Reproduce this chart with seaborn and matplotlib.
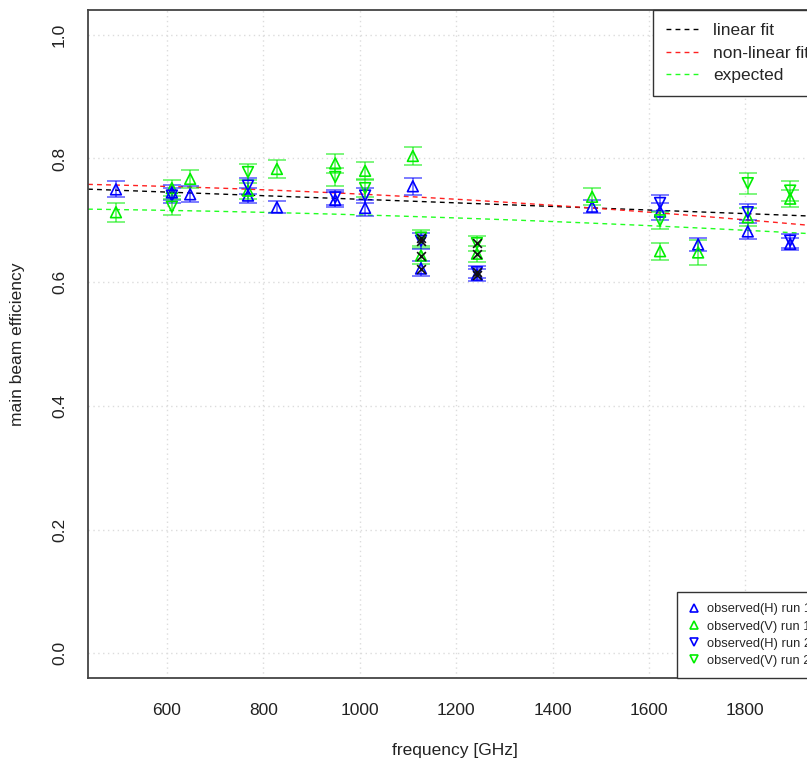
import numpy as np
import pandas as pd
import matplotlib
matplotlib.use("Agg")
import matplotlib.pyplot as plt
from matplotlib.lines import Line2D
import seaborn as sns

# ---- observed main beam efficiencies -------------------------------------
h1_freq = [494, 610, 648, 768, 828, 949, 1011, 1110, 1127, 1243, 1482, 1623, 1702, 1805, 1893]
h1_eff  = [0.750, 0.745, 0.742, 0.740, 0.721, 0.733, 0.720, 0.755, 0.622, 0.612, 0.722, 0.714, 0.661, 0.682, 0.662]
h1_err  = [0.013, 0.012, 0.013, 0.012, 0.010, 0.012, 0.013, 0.014, 0.012, 0.010, 0.011, 0.014, 0.010, 0.013, 0.010]

v1_freq = [494, 610, 648, 768, 828, 949, 1011, 1110, 1127, 1243, 1482, 1623, 1702, 1805, 1893]
v1_eff  = [0.713, 0.752, 0.767, 0.748, 0.783, 0.792, 0.780, 0.804, 0.643, 0.646, 0.738, 0.650, 0.648, 0.705, 0.735]
v1_err  = [0.015, 0.013, 0.014, 0.013, 0.014, 0.015, 0.015, 0.015, 0.013, 0.013, 0.014, 0.014, 0.020, 0.015, 0.014]

h2_freq = [610, 768, 949, 1011, 1127, 1243, 1623, 1805, 1893]
h2_eff  = [0.740, 0.756, 0.737, 0.740, 0.667, 0.616, 0.728, 0.713, 0.667]
h2_err  = [0.012, 0.013, 0.012, 0.012, 0.013, 0.010, 0.013, 0.013, 0.011]

v2_freq = [610, 768, 949, 1011, 1127, 1243, 1623, 1805, 1893]
v2_eff  = [0.722, 0.778, 0.770, 0.752, 0.672, 0.663, 0.700, 0.760, 0.748]
v2_err  = [0.013, 0.013, 0.015, 0.014, 0.013, 0.012, 0.014, 0.017, 0.016]

# frequencies whose measurements are flagged (drawn with a black cross)
flagged_freq = [1127, 1243]

# ---- fitted / expected efficiency models ---------------------------------
lin_intercept, lin_slope = 0.763, -2.9e-5          # eta = a + b*f
nonlin_amp, nonlin_coef = 0.7618, 2.577e-8         # eta = a*exp(-c*f^2)
exp_amp, exp_coef = 0.7202, 1.597e-8               # eta = a*exp(-c*f^2)

x_ticks = [600, 800, 1000, 1200, 1400, 1600, 1800]
y_ticks = [0.0, 0.2, 0.4, 0.6, 0.8, 1.0]
y_tick_labels = ["0.0", "0.2", "0.4", "0.6", "0.8", "1.0"]

BLUE = "#0000FF"
GREEN = "#00EE00"

series = [
    ("observed(H) run 1", h1_freq, h1_eff, h1_err, BLUE, "^"),
    ("observed(V) run 1", v1_freq, v1_eff, v1_err, GREEN, "^"),
    ("observed(H) run 2", h2_freq, h2_eff, h2_err, BLUE, "v"),
    ("observed(V) run 2", v2_freq, v2_eff, v2_err, GREEN, "v"),
]

sns.set_style("white")
plt.rcParams["font.family"] = ["Liberation Sans", "DejaVu Sans"]

W, H = 807, 764
fig = plt.figure(figsize=(W / 100, H / 100), dpi=100)
# plot region: left 88px, top 10px, bottom 678px, right 822px (beyond the canvas)
ax = fig.add_axes([88 / W, (H - 678) / H, 734 / W, 668 / H])

xlim = (436, 1959)
ylim = (-0.04, 1.04)
ax.set_xlim(*xlim)
ax.set_ylim(*ylim)

ax.set_xticks(x_ticks)
ax.set_yticks(y_ticks)
ax.set_yticklabels(y_tick_labels, rotation=90, va="center")
ax.tick_params(axis="both", direction="out", length=7.2, width=1.0,
               color="#444444", labelsize=12.5, labelcolor="#222222")
ax.tick_params(axis="x", pad=11)
ax.tick_params(axis="y", pad=8)
ax.grid(True, color="#dcdcdc", linestyle=(0, (1, 2.5)), linewidth=1.0)
ax.set_axisbelow(True)
for sp in ax.spines.values():
    sp.set_color("#444444")
    sp.set_linewidth(1.3)

# ---- model curves --------------------------------------------------------
f_grid = np.linspace(xlim[0], xlim[1], 300)
curves = pd.DataFrame({
    "freq": np.concatenate([f_grid] * 3),
    "eff": np.concatenate([
        lin_intercept + lin_slope * f_grid,
        nonlin_amp * np.exp(-nonlin_coef * f_grid ** 2),
        exp_amp * np.exp(-exp_coef * f_grid ** 2),
    ]),
    "model": ["linear fit"] * len(f_grid) + ["non-linear fit"] * len(f_grid)
             + ["expected"] * len(f_grid),
})
curve_colors = {"linear fit": "#000000", "non-linear fit": "#FF2020", "expected": "#22FF22"}
for name, col in curve_colors.items():
    sub = curves[curves["model"] == name]
    sns.lineplot(data=sub, x="freq", y="eff", color=col, linewidth=1.0,
                 dashes=False, ax=ax, zorder=2, legend=False)
    ax.lines[-1].set_dashes((3.5, 3.0))

# ---- observations with error bars ---------------------------------------
for label, f, e, err, col, mk in series:
    ax.errorbar(f, e, yerr=err, fmt="none", ecolor=col, alpha=0.6,
                elinewidth=1.2, capsize=6.5, capthick=1.2, zorder=3)
    sns.scatterplot(x=f, y=e, marker=mk, s=60, color=col, linewidth=1.2,
                    ax=ax, zorder=4, legend=False)
    coll = ax.collections[-1]
    coll.set_facecolor("none")
    coll.set_edgecolor(col)

# black crosses over the flagged measurements
flag_x, flag_y = [], []
for label, f, e, err, col, mk in series:
    for fi, ei in zip(f, e):
        if fi in flagged_freq:
            flag_x.append(fi)
            flag_y.append(ei)
sns.scatterplot(x=flag_x, y=flag_y, marker="x", s=40, color="#111111",
                linewidth=1.2, ax=ax, zorder=5, legend=False)

# ---- labels --------------------------------------------------------------
ax.set_xlabel("frequency [GHz]", fontsize=12.5, color="#222222")
ax.set_ylabel("main beam efficiency", fontsize=12.5, color="#222222")
ax.xaxis.set_label_coords(0.5, (678 - 751) / 668)
ax.xaxis.label.set_va("center")
ax.yaxis.set_label_coords((18 - 88) / 734, 0.5)
ax.yaxis.label.set_va("center")

# ---- legends -------------------------------------------------------------
line_handles = [Line2D([0], [0], color=c, lw=1.0, dashes=(3.5, 3.0))
                for c in curve_colors.values()]
leg1 = ax.legend(line_handles, list(curve_colors.keys()), loc="upper right",
                 fontsize=12.5, frameon=True, fancybox=False, framealpha=1,
                 edgecolor="#333333", borderaxespad=0, handlelength=2.0,
                 handletextpad=0.7, borderpad=0.75, labelspacing=0.42)
leg1.get_frame().set_linewidth(1.0)
ax.add_artist(leg1)

marker_handles = [Line2D([0], [0], linestyle="none", marker=mk, markersize=6,
                         markerfacecolor="none", markeredgecolor=col,
                         markeredgewidth=1.2)
                  for label, f, e, err, col, mk in series]
leg2 = ax.legend(marker_handles, [s[0] for s in series], loc="lower right",
                 fontsize=9.3, frameon=True, fancybox=False, framealpha=1,
                 edgecolor="#333333", borderaxespad=0, handlelength=1.0,
                 handletextpad=0.5, borderpad=0.85, labelspacing=0.4)
leg2.get_frame().set_linewidth(1.0)

fig.savefig("out.png", dpi=100)
